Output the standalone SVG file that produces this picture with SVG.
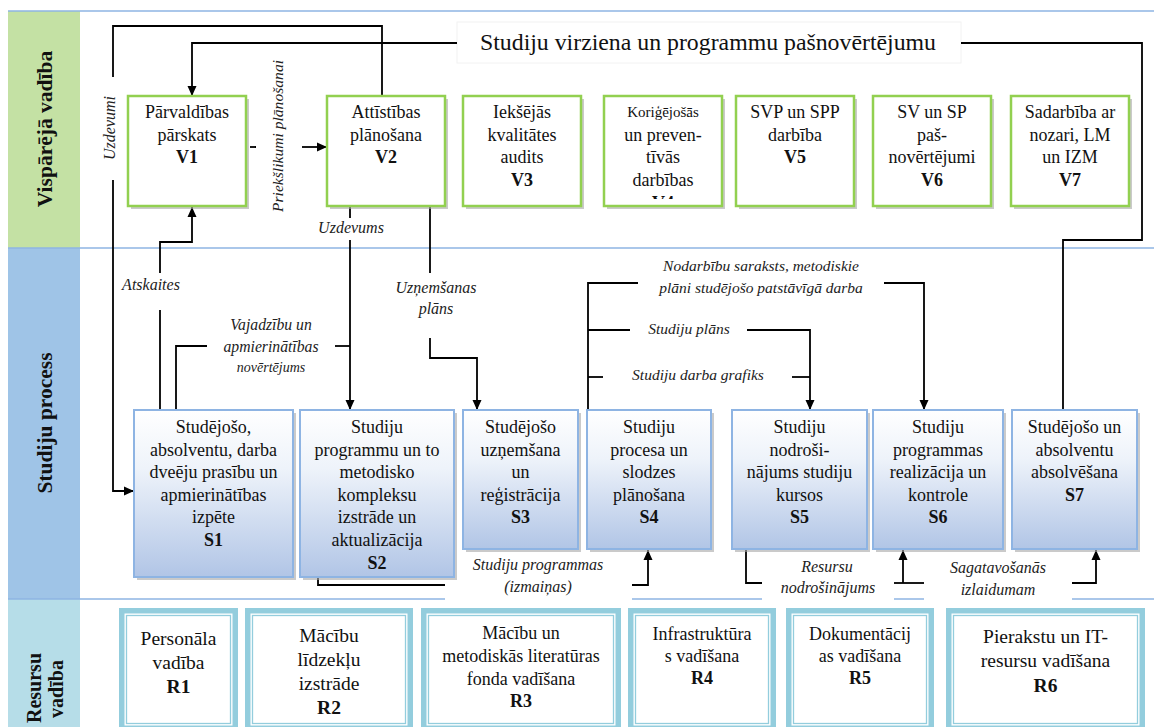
<svg xmlns="http://www.w3.org/2000/svg" width="1154" height="727" viewBox="0 0 1154 727">
<defs>
<linearGradient id="sg" x1="0" y1="0" x2="0" y2="1">
<stop offset="0" stop-color="#ffffff"/>
<stop offset="0.35" stop-color="#eef3fa"/>
<stop offset="1" stop-color="#b1c5e6"/>
</linearGradient>
<marker id="ah" viewBox="0 0 10 10" refX="10" refY="5" markerWidth="10" markerHeight="10" markerUnits="userSpaceOnUse" orient="auto">
<path d="M0,0.5 L10,5 L0,9.5 z" fill="#000"/>
</marker>
<clipPath id="v4clip"><rect x="600" y="90" width="126" height="109"/></clipPath>
</defs>
<style>
.t{font-family:"Liberation Serif","Times New Roman",serif;font-size:18px;text-anchor:middle;fill:#111}
.b{font-weight:bold}
.it{font-family:"Liberation Serif","Times New Roman",serif;font-style:italic;font-size:16px;text-anchor:middle;fill:#222}
.hd{font-family:"Liberation Serif","Times New Roman",serif;font-weight:bold;font-size:21.5px;text-anchor:middle;fill:#111}
.vbox{fill:#fff;stroke:#92d050;stroke-width:2.5}
.sbox{fill:url(#sg);stroke:#8eb4e3;stroke-width:2}
.sh{fill:#a6a6a6;opacity:0.6}
.rout{fill:#fff;stroke:#93cddd;stroke-width:5.5}
.rin{fill:none;stroke:#93cddd;stroke-width:1.3}
.lane{stroke:#8eb4e3;stroke-width:1.5;fill:none}
.c{fill:none;stroke:#000;stroke-width:1.8}
.ca{fill:none;stroke:#000;stroke-width:1.8;marker-end:url(#ah)}
.wb{fill:#fff}
</style>
<rect x="0" y="0" width="1154" height="727" fill="#fff"/>

<g id="lanes">
<rect x="8" y="11" width="72" height="237" fill="#c4e1a4"/>
<rect x="8" y="248" width="72" height="351" fill="#9fc4e7"/>
<rect x="8" y="599" width="72" height="128" fill="#b6dde8"/>
<line class="lane" x1="8" y1="11" x2="1154" y2="11"/>
<line class="lane" x1="8" y1="248" x2="1154" y2="248"/>
<line class="lane" x1="8" y1="599" x2="1154" y2="599"/>
<text class="hd" transform="translate(52,129) rotate(-90)">Vispārējā vadība</text>
<text class="hd" transform="translate(52,423) rotate(-90)">Studiju process</text>
<text class="hd" style="font-size:20px" transform="translate(41,688) rotate(-90)">Resursu</text>
<text class="hd" style="font-size:20px" transform="translate(63,689) rotate(-90)">vadība</text>
</g>

<g id="connectors">
<!-- title feedback S7 -> V1 -->
<rect class="wb" x="457" y="22" width="504" height="41" stroke="#f2f2f2" stroke-width="1"/>
<text class="t" style="font-size:23.8px" x="708" y="50">Studiju virziena un programmu pašnovērtējumu</text>
<path class="c" d="M1063,410 V240 H1142 V43 H961"/>
<path class="ca" d="M457,43 H192 V96"/>
<!-- Uzdevumi V2 -> S1 -->
<path class="c" d="M382,96 V26 H113 V77"/>
<path class="ca" d="M113,180 V491 H134"/>
<text class="it" transform="translate(115,128) rotate(-90)">Uzdevumi</text>
<!-- Priekšlikumi V1 -> V2 -->
<path class="c" d="M250,147 H256"/>
<path class="ca" d="M302,147 H327"/>
<text class="it" style="font-size:15.6px" transform="translate(283,136) rotate(-90)">Priekšlikumi plānošanai</text>
<!-- Uzdevums V2 -> S2 -->
<path class="c" d="M350,207 V218"/>
<path class="ca" d="M350,240 V410"/>
<text class="it" x="351" y="233">Uzdevums</text>
<!-- Atskaites S1 -> V1 -->
<path class="c" d="M160,410 V310"/>
<path class="ca" d="M160,273 V242 H192 V207"/>
<text class="it" x="151" y="290">Atskaites</text>
<!-- Vajadzibu S1 -> S2 -->
<path class="c" d="M176,410 V346 H207"/>
<path class="c" d="M335,346 H350"/>
<text class="it" style="font-size:15.7px" x="271" y="330">Vajadzību un</text>
<text class="it" style="font-size:15.7px" x="271" y="352">apmierinātības</text>
<text class="it" style="font-size:14px" x="271" y="372">novērtējums</text>
<!-- Uznemsanas plans V2 -> S3 -->
<path class="c" d="M430,207 V273"/>
<path class="ca" d="M430,338 V358 H477 V410"/>
<text class="it" x="436" y="293">Uzņemšanas</text>
<text class="it" x="436" y="314">plāns</text>
<!-- S4 -> S6, S5 -->
<path class="c" d="M588,410 V283 H638"/>
<path class="ca" d="M884,283 H924 V410"/>
<text class="it" style="font-size:15.5px" x="761" y="271">Nodarbību saraksts, metodiskie</text>
<text class="it" style="font-size:15.5px" x="761" y="293">plāni studējošo patstāvīgā darba</text>
<path class="c" d="M588,330 H630"/>
<path class="ca" d="M747,330 H810 V410"/>
<text class="it" style="font-size:15.5px" x="689" y="334">Studiju plāns</text>
<path class="c" d="M588,377 H603"/>
<path class="c" d="M792,377 H810"/>
<text class="it" style="font-size:15.5px" x="698" y="380">Studiju darba grafiks</text>
<!-- S2 -> S4 -->
<rect class="wb" x="445" y="555" width="187" height="51"/>
<path class="c" d="M318,577 V585 H445"/>
<path class="ca" d="M632,585 H648 V550"/>
<text class="it" x="538" y="570">Studiju programmas</text>
<text class="it" x="538" y="592">(izmaiņas)</text>
<!-- S5 -> S6 -->
<rect class="wb" x="762" y="553" width="132" height="53"/>
<path class="c" d="M746,550 V583 H762"/>
<path class="c" d="M894,583 H924"/>
<path class="ca" d="M903,583 V550"/>
<text class="it" x="827" y="572">Resursu</text>
<text class="it" x="828" y="593">nodrošinājums</text>
<!-- Sagatavosanas -> S7 -->
<rect class="wb" x="924" y="553" width="148" height="53"/>
<path class="ca" d="M1072,583 H1096 V550"/>
<text class="it" x="998" y="573">Sagatavošanās</text>
<text class="it" x="998" y="595">izlaidumam</text>
</g>

<g id="V1">
<rect class="sh" x="131" y="99" width="118" height="110"/>
<rect class="vbox" x="128" y="96" width="118" height="110"/>
<text class="t" x="187" y="118">Pārvaldības</text>
<text class="t" x="187" y="140.5">pārskats</text>
<text class="t b" x="187" y="163">V1</text>
</g>
<g id="V2">
<rect class="sh" x="330" y="99" width="118" height="110"/>
<rect class="vbox" x="327" y="96" width="118" height="110"/>
<text class="t" x="386" y="118">Attīstības</text>
<text class="t" x="386" y="140.5">plānošana</text>
<text class="t b" x="386" y="163">V2</text>
</g>
<g id="V3">
<rect class="sh" x="466" y="99" width="118" height="110"/>
<rect class="vbox" x="463" y="96" width="118" height="110"/>
<text class="t" x="522" y="118">Iekšējās</text>
<text class="t" x="522" y="140.5">kvalitātes</text>
<text class="t" x="522" y="163">audits</text>
<text class="t b" x="522" y="185.5">V3</text>
</g>
<g id="V4">
<rect class="sh" x="607" y="99" width="118" height="110"/>
<rect class="vbox" x="604" y="96" width="118" height="110"/>
<g clip-path="url(#v4clip)">
<text class="t" style="font-size:15px" x="663" y="117">Koriģējošās</text>
<text class="t" x="663" y="140.5">un preven-</text>
<text class="t" x="663" y="163">tīvās</text>
<text class="t" x="663" y="185.5">darbības</text>
<text class="t b" x="663" y="208.5">V4</text>
</g>
</g>
<g id="V5">
<rect class="sh" x="739" y="99" width="118" height="110"/>
<rect class="vbox" x="736" y="96" width="118" height="110"/>
<text class="t" x="795" y="118">SVP un SPP</text>
<text class="t" x="795" y="140.5">darbība</text>
<text class="t b" x="795" y="163">V5</text>
</g>
<g id="V6">
<rect class="sh" x="876" y="99" width="118" height="110"/>
<rect class="vbox" x="873" y="96" width="118" height="110"/>
<text class="t" x="932" y="118">SV un SP</text>
<text class="t" x="932" y="140.5">paš-</text>
<text class="t" x="932" y="163">novērtējumi</text>
<text class="t b" x="932" y="185.5">V6</text>
</g>
<g id="V7">
<rect class="sh" x="1014" y="99" width="118" height="110"/>
<rect class="vbox" x="1011" y="96" width="118" height="110"/>
<text class="t" x="1070" y="118">Sadarbība ar</text>
<text class="t" x="1070" y="140.5">nozari, LM</text>
<text class="t" x="1070" y="163">un IZM</text>
<text class="t b" x="1070" y="185.5">V7</text>
</g>

<g id="S1">
<rect class="sh" x="137" y="413" width="159" height="167"/>
<rect class="sbox" x="134" y="410" width="159" height="167"/>
<text class="t" x="213.5" y="433">Studējošo,</text>
<text class="t" x="213.5" y="455.6">absolventu, darba</text>
<text class="t" x="213.5" y="478.2">dveēju prasību un</text>
<text class="t" x="213.5" y="500.8">apmierinātības</text>
<text class="t" x="213.5" y="523.4">izpēte</text>
<text class="t b" x="213.5" y="546">S1</text>
</g>
<g id="S2">
<rect class="sh" x="303" y="413" width="154" height="167"/>
<rect class="sbox" x="300" y="410" width="154" height="167"/>
<text class="t" x="377" y="433">Studiju</text>
<text class="t" x="377" y="455.6">programmu un to</text>
<text class="t" x="377" y="478.2">metodisko</text>
<text class="t" x="377" y="500.8">kompleksu</text>
<text class="t" x="377" y="523.4">izstrāde un</text>
<text class="t" x="377" y="546">aktualizācija</text>
<text class="t b" x="377" y="568.6">S2</text>
</g>
<g id="S3">
<rect class="sh" x="466" y="413" width="115" height="139"/>
<rect class="sbox" x="463" y="410" width="115" height="139"/>
<text class="t" x="520.5" y="433">Studējošo</text>
<text class="t" x="520.5" y="455.6">uzņemšana</text>
<text class="t" x="520.5" y="478.2">un</text>
<text class="t" x="520.5" y="500.8">reģistrācija</text>
<text class="t b" x="520.5" y="523.4">S3</text>
</g>
<g id="S4">
<rect class="sh" x="590" y="413" width="124" height="139"/>
<rect class="sbox" x="587" y="410" width="124" height="139"/>
<text class="t" x="649" y="433">Studiju</text>
<text class="t" x="649" y="455.6">procesa un</text>
<text class="t" x="649" y="478.2">slodzes</text>
<text class="t" x="649" y="500.8">plānošana</text>
<text class="t b" x="649" y="523.4">S4</text>
</g>
<g id="S5">
<rect class="sh" x="735" y="413" width="135" height="139"/>
<rect class="sbox" x="732" y="410" width="135" height="139"/>
<text class="t" x="799.5" y="433">Studiju</text>
<text class="t" x="799.5" y="455.6">nodroši-</text>
<text class="t" x="799.5" y="478.2">nājums studiju</text>
<text class="t" x="799.5" y="500.8">kursos</text>
<text class="t b" x="799.5" y="523.4">S5</text>
</g>
<g id="S6">
<rect class="sh" x="876" y="413" width="130" height="139"/>
<rect class="sbox" x="873" y="410" width="130" height="139"/>
<text class="t" x="938" y="433">Studiju</text>
<text class="t" x="938" y="455.6">programmas</text>
<text class="t" x="938" y="478.2">realizācija un</text>
<text class="t" x="938" y="500.8">kontrole</text>
<text class="t b" x="938" y="523.4">S6</text>
</g>
<g id="S7">
<rect class="sh" x="1015" y="413" width="125" height="139"/>
<rect class="sbox" x="1012" y="410" width="125" height="139"/>
<text class="t" x="1074.5" y="433">Studējošo un</text>
<text class="t" x="1074.5" y="455.6">absolventu</text>
<text class="t" x="1074.5" y="478.2">absolvēšana</text>
<text class="t b" x="1074.5" y="500.8">S7</text>
</g>

<g id="R1">
<rect class="rout" x="121.75" y="610.75" width="113.5" height="117.5"/>
<rect class="rin" x="126.5" y="615.5" width="104" height="108"/>
<text class="t" style="font-size:19.5px" x="178.5" y="645">Personāla</text>
<text class="t" style="font-size:19.5px" x="178.5" y="669">vadība</text>
<text class="t b" style="font-size:19.5px" x="178.5" y="693">R1</text>
</g>
<g id="R2">
<rect class="rout" x="247.75" y="610.75" width="162.5" height="117.5"/>
<rect class="rin" x="252.5" y="615.5" width="153" height="108"/>
<text class="t" style="font-size:19.5px" x="329" y="642">Mācību</text>
<text class="t" style="font-size:19.5px" x="329" y="666">līdzekļu</text>
<text class="t" style="font-size:19.5px" x="329" y="690">izstrāde</text>
<text class="t b" style="font-size:19.5px" x="329" y="714">R2</text>
</g>
<g id="R3">
<rect class="rout" x="423.75" y="610.75" width="194.5" height="117.5"/>
<rect class="rin" x="428.5" y="615.5" width="185" height="108"/>
<text class="t" x="521" y="639">Mācību un</text>
<text class="t" x="521" y="662">metodiskās literatūras</text>
<text class="t" x="521" y="684.5">fonda vadīšana</text>
<text class="t b" x="521" y="707">R3</text>
</g>
<g id="R4">
<rect class="rout" x="630.75" y="610.75" width="142.5" height="117.5"/>
<rect class="rin" x="635.5" y="615.5" width="133" height="108"/>
<text class="t" x="702" y="640">Infrastruktūra</text>
<text class="t" x="702" y="662">s vadīšana</text>
<text class="t b" x="702" y="684">R4</text>
</g>
<g id="R5">
<rect class="rout" x="788.75" y="610.75" width="142.5" height="117.5"/>
<rect class="rin" x="793.5" y="615.5" width="133" height="108"/>
<text class="t" x="860" y="640">Dokumentācij</text>
<text class="t" x="860" y="662">as vadīšana</text>
<text class="t b" x="860" y="684">R5</text>
</g>
<g id="R6">
<rect class="rout" x="948.75" y="610.75" width="193.5" height="117.5"/>
<rect class="rin" x="953.5" y="615.5" width="184" height="108"/>
<text class="t" style="font-size:19.5px" x="1045.5" y="643">Pierakstu un IT-</text>
<text class="t" style="font-size:19.5px" x="1045.5" y="667">resursu vadīšana</text>
<text class="t b" style="font-size:19.5px" x="1045.5" y="692">R6</text>
</g>
</svg>
